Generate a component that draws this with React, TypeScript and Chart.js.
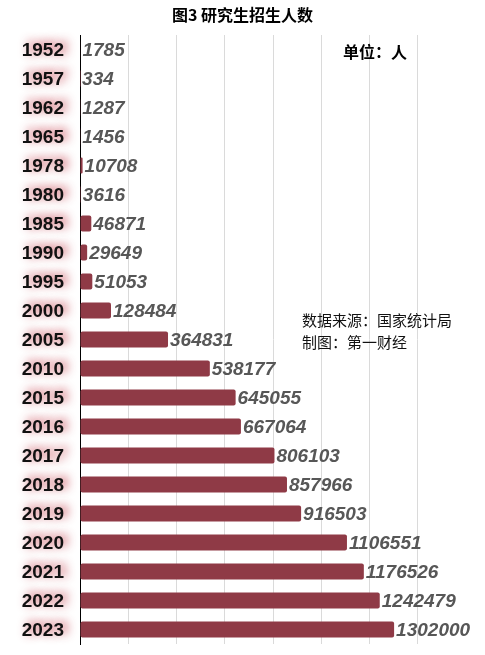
import { useEffect, useRef } from "react";
import { Chart, registerables } from "chart.js";

Chart.register(...registerables);

const years = [
    "1952", "1957", "1962", "1965", "1978", "1980", "1985", "1990", "1995", "2000", "2005",
    "2010", "2015", "2016", "2017", "2018", "2019", "2020", "2021", "2022", "2023",
];
const enrollment = [
    1785, 334, 1287, 1456, 10708, 3616, 46871, 29649, 51053, 128484, 364831,
    538177, 645055, 667064, 806103, 857966, 916503, 1106551, 1176526, 1242479, 1302000,
];
const axisMax = 1600000;
const axisStep = 200000;

const TITLE = "图3 研究生招生人数";
const UNIT = "单位：人";
const SOURCE_LINES = ["数据来源：国家统计局", "制图：第一财经"];

const LATIN = "'Liberation Sans', Arial, Helvetica, sans-serif";
const CJK = "'Noto Sans CJK SC', 'Noto Sans', sans-serif";

const decorations = {
    id: "decorations",
    afterDatasetsDraw(chart: any) {
        const { ctx } = chart;
        const meta = chart.getDatasetMeta(0);
        ctx.save();
        ctx.font = `italic bold 19px ${LATIN}`;
        ctx.fillStyle = "#575757";
        ctx.textAlign = "left";
        ctx.textBaseline = "middle";
        meta.data.forEach((bar: any, i: number) => {
            ctx.fillText(String(enrollment[i]), bar.x + 2, bar.y + 1);
        });
        ctx.restore();
    },
    afterDraw(chart: any) {
        const { ctx, chartArea, scales } = chart;
        const yScale = scales.y;
        ctx.save();
        // year labels with a soft red glow
        ctx.font = `bold 19px ${LATIN}`;
        ctx.textAlign = "right";
        ctx.textBaseline = "middle";
        ctx.fillStyle = "#111";
        ctx.shadowColor = "rgba(190, 40, 55, 0.85)";
        ctx.shadowBlur = 10;
        ctx.shadowOffsetX = 4;
        ctx.shadowOffsetY = -2;
        years.forEach((yr, i) => {
            ctx.fillText(yr, chartArea.left - 16, yScale.getPixelForTick(i) + 1);
        });
        ctx.shadowColor = "transparent";
        ctx.shadowBlur = 0;
        ctx.shadowOffsetX = 0;
        ctx.shadowOffsetY = 0;

        // title
        ctx.fillStyle = "#000";
        ctx.textAlign = "center";
        ctx.font = `bold 16px ${CJK}`;
        ctx.fillText(TITLE, chart.width / 2, 15);

        // unit
        ctx.textAlign = "left";
        ctx.fillText(UNIT, 343, 52);

        // source
        ctx.font = `15px ${CJK}`;
        ctx.fillStyle = "#111";
        SOURCE_LINES.forEach((line, i) => ctx.fillText(line, 302, 320 + i * 22));
        ctx.restore();
    },
};

const App = () => {
    const canvasRef = useRef<HTMLCanvasElement>(null);

    useEffect(() => {
        document.body.style.margin = "0";
        if (!canvasRef.current) return;
        const chart = new Chart(canvasRef.current, {
            type: "bar",
            data: {
                labels: years,
                datasets: [
                    {
                        data: enrollment,
                        backgroundColor: "#8f3a46",
                        borderRadius: 2,
                        borderSkipped: false,
                        categoryPercentage: 1,
                        barPercentage: 0.56,
                    },
                ],
            },
            options: {
                indexAxis: "y",
                animation: false,
                responsive: true,
                maintainAspectRatio: false,
                layout: { padding: { top: 35, bottom: 11, left: 0, right: 19 } },
                plugins: {
                    legend: { display: false },
                    tooltip: { enabled: false },
                },
                scales: {
                    x: {
                        min: 0,
                        max: axisMax,
                        ticks: { display: false, stepSize: axisStep },
                        grid: {
                            drawTicks: false,
                            lineWidth: 1,
                            color: (c: any) =>
                                c.tick && c.tick.value >= axisMax ? "rgba(0,0,0,0)" : "#dadada",
                        },
                        border: { display: false },
                        afterFit: (s: any) => {
                            s.height = 0;
                        },
                    },
                    y: {
                        ticks: { display: false },
                        grid: { display: false, drawTicks: false },
                        border: { display: true, color: "#000", width: 1 },
                        afterFit: (s: any) => {
                            s.width = 80;
                        },
                    },
                },
            },
            plugins: [decorations],
        });
        return () => {
            chart.destroy();
        };
    }, []);

    return (
        <div style={{ width: "485px", height: "655px", position: "relative", background: "#fff" }}>
            <canvas ref={canvasRef}></canvas>
        </div>
    );
};

export default App;
